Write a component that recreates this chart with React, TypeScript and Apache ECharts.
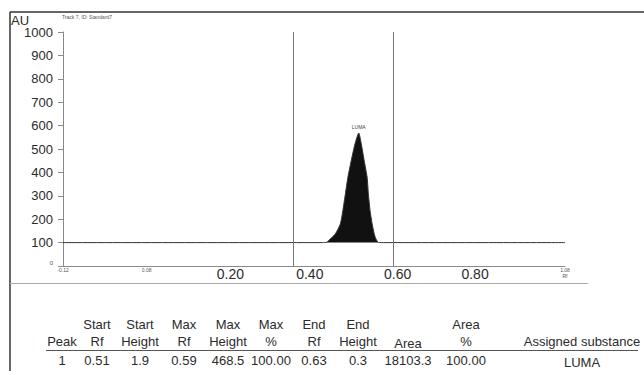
import React, { useEffect, useRef } from "react";
import * as echarts from "echarts";

// ---- data ----
const trackTitle = "Track 7, ID: Standard7";
const yAxisName = "AU";
const yMin = 0;
const yMax = 1000;
const yStep = 100;
const xMin = -0.12;
const xMax = 1.08;
const xTickValues = [-0.12, 0.08, 0.28, 0.47, 0.68, 0.865, 1.08];
const xTickLabels = ["-0.12", "0.08", "0.20", "0.40", "0.60", "0.80", "1.08"];
const xTickSmall = [true, true, false, false, false, false, true];
const xUnit = "Rf";

const traceRf = [-0.12, 0.5, 0.511, 0.519, 0.531, 0.543, 0.549, 0.555, 0.561, 0.569, 0.578, 0.587, 0.593, 0.6, 0.607, 0.61, 0.614, 0.619, 0.624, 0.628, 0.634, 0.65, 1.08];
const traceAU = [100, 100, 101.9, 116, 137, 180, 237, 308, 379, 450, 522, 568.5, 522, 450, 379, 308, 237, 180, 137, 116, 100.3, 100, 100];
const baselineAU = 100;
const peakName = "LUMA";
const peakApexRf = 0.587;
const peakApexAU = 568.5;
const windowRf = [0.427, 0.667];

const tableHeaderTop = ["", "Start", "Start", "Max", "Max", "Max", "End", "End", "", "Area", ""];
const tableHeaderBottom = ["Peak", "Rf", "Height", "Rf", "Height", "%", "Rf", "Height", "Area", "%", "Assigned substance"];
const tableRow = ["1", "0.51", "1.9", "0.59", "468.5", "100.00", "0.63", "0.3", "18103.3", "100.00", "LUMA"];

// ---- layout ----
const tableColX = [62, 97, 140, 184, 228, 271, 314, 358, 408, 466, 582];
const FONT = "'Liberation Sans', Arial, sans-serif";
const TXT = "#2b2b2b";

export default function App() {
  const ref = useRef<HTMLDivElement>(null);

  useEffect(() => {
    if (!ref.current) return;
    const chart = echarts.init(ref.current, undefined, { renderer: "svg" });

    const tableTexts: any[] = [];
    const cell = (t: string, x: number, y: number) => ({
      type: "text",
      style: { text: t, x, y, align: "center", verticalAlign: "middle", fontSize: 13, fontFamily: FONT, fill: TXT },
    });
    tableHeaderTop.forEach((t, i) => {
      if (t) tableTexts.push(cell(t, tableColX[i], 324));
    });
    tableHeaderBottom.forEach((t, i) => {
      tableTexts.push(cell(t, tableColX[i], t === "Area" ? 343 : 341));
    });
    tableRow.forEach((t, i) => {
      tableTexts.push(cell(t, tableColX[i], i === tableRow.length - 1 ? 362 : 360));
    });

    const option: any = {
      animation: false,
      backgroundColor: "#ffffff",
      textStyle: { fontFamily: FONT },
      grid: { left: 63, right: 79, top: 32, bottom: 105, containLabel: false },
      xAxis: {
        type: "value",
        min: xMin,
        max: xMax,
        axisLine: { show: true, onZero: false, lineStyle: { color: "#8a8a8a", width: 1 } },
        axisTick: { show: false },
        splitLine: { show: false },
        axisLabel: {
          customValues: xTickValues,
          showMinLabel: true,
          showMaxLabel: true,
          hideOverlap: false,
          margin: 1,
          formatter: (v: number) => {
            let idx = 0;
            let best = Infinity;
            xTickValues.forEach((tv, i) => {
              const d = Math.abs(tv - v);
              if (d < best) { best = d; idx = i; }
            });
            const lab = xTickLabels[idx];
            if (idx === xTickValues.length - 1) return `{s|${lab}}\n{s|${xUnit}}`;
            return xTickSmall[idx] ? `{s|${lab}}` : `{b|${lab}}`;
          },
          rich: {
            s: { fontSize: 5, color: "#555", fontFamily: FONT, lineHeight: 6 },
            b: { fontSize: 14, color: TXT, fontFamily: FONT, lineHeight: 14 },
          },
        },
      },
      yAxis: {
        type: "value",
        min: yMin,
        max: yMax,
        interval: yStep,
        axisLine: { show: true, onZero: false, lineStyle: { color: "#8a8a8a", width: 1 } },
        axisTick: { show: true, length: 5, inside: false, lineStyle: { color: "#8a8a8a" } },
        splitLine: { show: false },
        axisLabel: {
          margin: 10,
          fontSize: 13,
          color: TXT,
          formatter: (v: number) => (v === 0 ? "{s|0}" : String(v)),
          rich: { s: { fontSize: 6, color: "#555", padding: [0, 0, 6, 0] } },
        },
      },
      series: [
        {
          type: "line",
          data: traceRf.map((x, i) => [x, traceAU[i]]),
          showSymbol: false,
          symbol: "none",
          smooth: 0.2,
          lineStyle: { color: "#333", width: 1 },
          areaStyle: { color: "#111", opacity: 1, origin: baselineAU },
          z: 3,
          markLine: {
            silent: true,
            symbol: ["none", "none"],
            label: { show: false },
            lineStyle: { color: "#777", width: 1, type: "solid" },
            data: windowRf.map((x) => ({ xAxis: x })),
          },
          markPoint: {
            silent: true,
            symbol: "circle",
            symbolSize: 0,
            label: { show: true, formatter: peakName, position: "top", distance: 3, fontSize: 5, color: "#444" },
            data: [{ coord: [peakApexRf, peakApexAU], name: peakName }],
          },
        },
      ],
      graphic: [
        { type: "line", shape: { x1: 10, y1: 12, x2: 644, y2: 12 }, style: { stroke: "#333", lineWidth: 1.5 } },
        { type: "line", shape: { x1: 10, y1: 12, x2: 10, y2: 371 }, style: { stroke: "#333", lineWidth: 1.5 } },
        { type: "line", shape: { x1: 10, y1: 283.5, x2: 588, y2: 283.5 }, style: { stroke: "#aaa", lineWidth: 1 } },
        { type: "line", shape: { x1: 46, y1: 350.5, x2: 638, y2: 350.5 }, style: { stroke: "#555", lineWidth: 1 } },
        { type: "text", style: { text: yAxisName, x: 11, y: 20, verticalAlign: "middle", fontSize: 13, fontFamily: FONT, fill: TXT } },
        { type: "text", style: { text: trackTitle, x: 62, y: 17, verticalAlign: "middle", fontSize: 5, fontFamily: FONT, fill: "#555" } },
        ...tableTexts,
      ],
    };

    chart.setOption(option);
    return () => chart.dispose();
  }, []);

  return <div ref={ref} style={{ position: "fixed", left: 0, top: 0, width: 644, height: 371 }} />;
}
